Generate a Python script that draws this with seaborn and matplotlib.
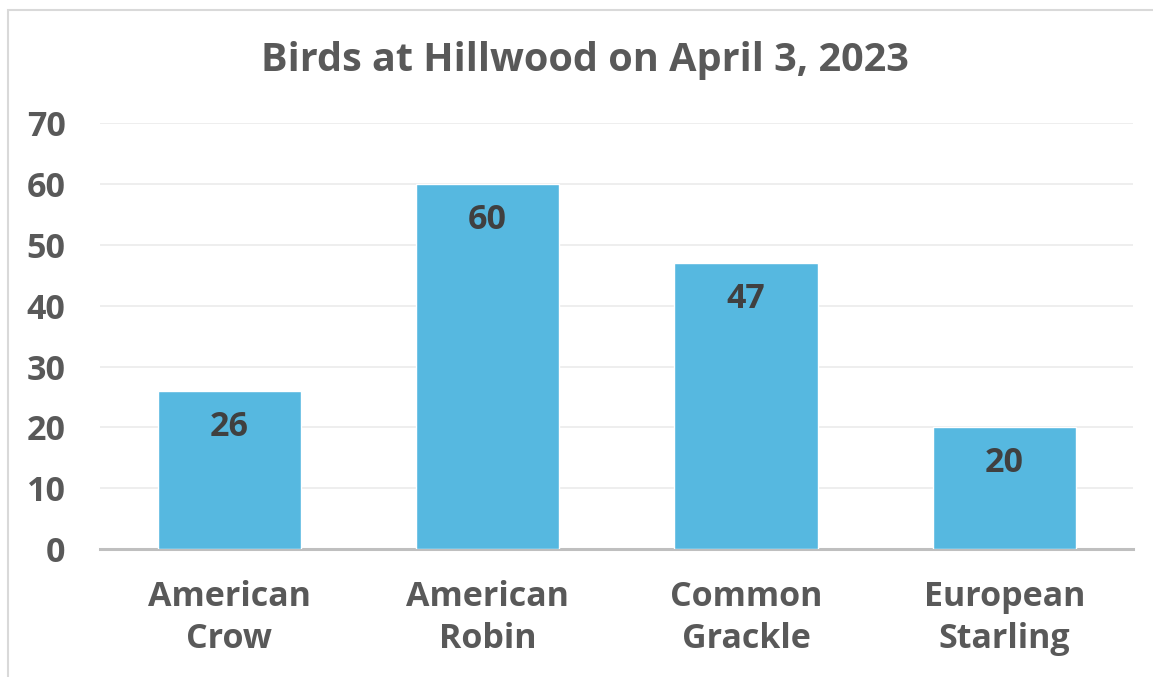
import matplotlib
matplotlib.use("Agg")
import matplotlib.pyplot as plt
import seaborn as sns
import pandas as pd
from matplotlib.patches import Rectangle

# data
birds = ["American\nCrow", "American\nRobin", "Common\nGrackle", "European\nStarling"]
counts = [26, 60, 47, 20]
y_ticks = [0, 10, 20, 30, 40, 50, 60, 70]

df = pd.DataFrame({"bird": birds, "count": counts})

sns.set_theme(style="white")
plt.rcParams["font.family"] = ["Open Sans", "DejaVu Sans"]

fig = plt.figure(figsize=(11.53, 6.77), dpi=100)
ax = fig.add_axes([0.087, 0.189, 0.896, 0.629])

sns.barplot(data=df, x="bird", y="count", color="#56B8E0", saturation=1,
            width=0.554, ax=ax, zorder=3)

ax.set_ylim(0, 70)
ax.set_xlim(-0.5, 3.5)
ax.set_yticks(y_ticks)
ax.yaxis.grid(True, color="#EBEBEB", linewidth=1.2, zorder=0)
ax.xaxis.grid(False)
for s in ["top", "right", "left"]:
    ax.spines[s].set_visible(False)
ax.spines["bottom"].set_color("#BFBFBF")
ax.spines["bottom"].set_linewidth(2.2)
ax.tick_params(axis="y", length=0, pad=25, labelsize=24.5, labelcolor="#595959")
ax.tick_params(axis="x", length=0, pad=22, labelsize=24.5, labelcolor="#595959")
for lab in ax.get_xticklabels() + ax.get_yticklabels():
    lab.set_fontweight("bold")
for lab in ax.get_xticklabels():
    lab.set_linespacing(1.32)
ax.set_xlabel("")
ax.set_ylabel("")

# value labels inside bars
for i, v in enumerate(counts):
    ax.annotate(str(v), (i, v), xytext=(0, -26), textcoords="offset points",
                ha="center", va="center", fontsize=24.5, fontweight="bold",
                color="#404040", zorder=4)

fig.text(0.507, 0.91, "Birds at Hillwood on April 3, 2023", ha="center",
         va="center", fontsize=28.5, fontweight="bold", color="#595959")

# chart frame
fig.patches.append(Rectangle((0.007, -0.02), 1.0, 1.005, transform=fig.transFigure,
                             fill=False, edgecolor="#D9D9D9", linewidth=1.5))

fig.savefig("out.png", dpi=100)
